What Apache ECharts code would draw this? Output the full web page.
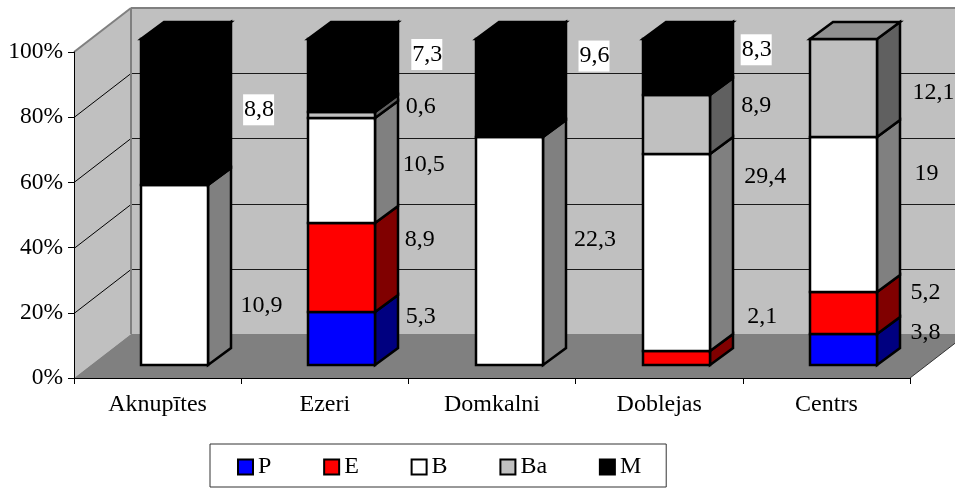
<!DOCTYPE html>
<html>
<head>
<meta charset="utf-8">
<style>
    html, body { margin: 0; padding: 0; background: #fff; }
    #chart { width: 955px; height: 488px; }
</style>
<script src="https://cdn.jsdelivr.net/npm/echarts@6/dist/echarts.min.js"></script>
</head>
<body>
<div id="chart"></div>
<script>
var categories = ['Aknupītes', 'Ezeri', 'Domkalni', 'Doblejas', 'Centrs'];
var yTicks = [0, 20, 40, 60, 80, 100];

// raw values per group, the chart stacks them to 100%
var P  = [0, 5.3, 0, 0, 3.8];
var E  = [0, 8.9, 0, 2.1, 5.2];
var B  = [10.9, 10.5, 22.3, 29.4, 19];
var Ba = [0, 0.6, 0, 8.9, 12.1];
var M  = [8.8, 7.3, 9.6, 8.3, 0];

// the labels were moved by hand in the original: shift from bar centre / segment middle
var shiftX_P  = [0, 79, 0, 0, 82];
var shiftY_P  = [0, -22, 0, 0, -17];
var shiftX_E  = [0, 78, 0, 86, 82];
var shiftY_E  = [0, -28, 0, -41, -20];
var shiftX_B  = [87, 82, 86, 89, 83];
var shiftY_B  = [31, -6, -11, -76, -41];
var shiftX_Ba = [0, 79, 0, 80, 90];
var shiftY_Ba = [0, -8, 0, -19, 5];
var shiftX_M  = [84, 85, 85, 80, 0];
var shiftY_M  = [-2, -21, -32, -17, 0];

var FONT = '"Liberation Serif", "Times New Roman", serif';
var WALL = '#c0c0c0', EDGE = '#808080', FLOOR = '#808080';
var DEPTH_X = 57, DEPTH_Y = 44;     // whole floor
var BAR_X = 17, BAR_Y = 13;         // bar front stands this far from the front edge
var SIDE_X = 23, SIDE_Y = 17;       // bar depth
var BAR_LINE = 2.5;

var names = ['P', 'E', 'B', 'Ba', 'M'];
var rows = [P, E, B, Ba, M];
var colors = ['#0000ff', '#ff0000', '#ffffff', '#c0c0c0', '#000000'];
var sideColors = ['#000080', '#800000', '#808080', '#606060', '#000000'];
var topColors = ['#0000b0', '#b00000', '#b0b0b0', '#909090', '#000000'];
var shiftsX = [shiftX_P, shiftX_E, shiftX_B, shiftX_Ba, shiftX_M];
var shiftsY = [shiftY_P, shiftY_E, shiftY_B, shiftY_Ba, shiftY_M];

function totalOf(i) {
    var t = 0;
    for (var r = 0; r < rows.length; r++) t += rows[r][i];
    return t;
}

function segments(r) {
    var out = [];
    for (var i = 0; i < categories.length; i++) {
        if (!rows[r][i]) continue;
        var below = 0, above = 0;
        for (var k = 0; k < r; k++) below += rows[k][i];
        for (var k2 = r + 1; k2 < rows.length; k2++) above += rows[k2][i];
        var t = totalOf(i);
        out.push([i, below / t * 100, (below + rows[r][i]) / t * 100, above > 0 ? 0 : 1]);
    }
    return out;
}

function poly(points, fill, stroke, width) {
    return {
        type: 'polygon',
        shape: { points: points },
        style: { fill: fill, stroke: stroke || null, lineWidth: width || 0, lineJoin: 'miter' }
    };
}

function line(x1, y1, x2, y2, color, width) {
    return {
        type: 'line',
        shape: { x1: x1, y1: y1, x2: x2, y2: y2 },
        style: { stroke: color, lineWidth: width || 1 }
    };
}

function renderWalls(params, api) {
    var c = params.coordSys;
    var l = c.x, r = c.x + c.width, t = c.y, b = c.y + c.height;
    var kids = [
        poly([[l + DEPTH_X, t - DEPTH_Y], [r + DEPTH_X, t - DEPTH_Y], [r + DEPTH_X, b - DEPTH_Y], [l + DEPTH_X, b - DEPTH_Y]], WALL),
        poly([[l, t], [l + DEPTH_X, t - DEPTH_Y], [l + DEPTH_X, b - DEPTH_Y], [l, b]], WALL),
        poly([[l, b], [l + DEPTH_X, b - DEPTH_Y], [r + DEPTH_X, b - DEPTH_Y], [r, b]], FLOOR)
    ];
    for (var i = 1; i < yTicks.length - 1; i++) {
        var y = Math.round(api.coord([0, yTicks[i]])[1]) + 0.5;
        kids.push(line(l, y, l + DEPTH_X, y - DEPTH_Y, '#000'));
        kids.push(line(l + DEPTH_X, y - DEPTH_Y, r + DEPTH_X, y - DEPTH_Y, '#1a1a1a'));
    }
    kids.push(line(l + DEPTH_X, t - DEPTH_Y, r + DEPTH_X, t - DEPTH_Y, EDGE, 2));
    kids.push(line(l + DEPTH_X, t - DEPTH_Y, l + DEPTH_X, b - DEPTH_Y, EDGE, 2));
    kids.push(line(l, t, l + DEPTH_X, t - DEPTH_Y, EDGE, 2));
    kids.push(line(r, b, r + DEPTH_X, b - DEPTH_Y, '#333'));
    return { type: 'group', children: kids };
}

function renderSegment(r) {
    return function (params, api) {
        var i = api.value(0);
        var low = api.coord([i, api.value(1)]);
        var high = api.coord([i, api.value(2)]);
        var w = Math.round(api.size([1, 0])[0] * 0.4);
        var x0 = Math.round(low[0] + BAR_X - w / 2), x1 = x0 + w;
        var y0 = Math.round(low[1] - BAR_Y), y1 = Math.round(high[1] - BAR_Y);
        var kids = [
            poly([[x1, y0], [x1 + SIDE_X, y0 - SIDE_Y], [x1 + SIDE_X, y1 - SIDE_Y], [x1, y1]], sideColors[r], '#000', BAR_LINE),
            poly([[x0, y0], [x1, y0], [x1, y1], [x0, y1]], colors[r], '#000', BAR_LINE)
        ];
        if (api.value(3)) {
            kids.push(poly([[x0, y1], [x0 + SIDE_X, y1 - SIDE_Y], [x1 + SIDE_X, y1 - SIDE_Y], [x1, y1]], topColors[r], '#000', BAR_LINE));
        }
        return { type: 'group', children: kids };
    };
}

function renderLabel(r) {
    return function (params, api) {
        var i = api.value(0);
        var mid = api.coord([i, (api.value(1) + api.value(2)) / 2]);
        var x = mid[0] + BAR_X + shiftsX[r][i];
        var y = mid[1] - BAR_Y + shiftsY[r][i];
        var back = names[r] === 'M';
        return {
            type: 'text',
            x: x,
            y: y,
            z2: 20,
            style: {
                text: String(rows[r][i]).replace('.', ','),
                font: '24px ' + FONT,
                fill: '#000',
                align: 'center',
                verticalAlign: 'middle',
                backgroundColor: back ? '#fff' : null,
                padding: back ? [4, 0, 3, 1] : 0
            }
        };
    };
}

var series = [{
    type: 'custom',
    silent: true,
    z: 1,
    renderItem: renderWalls,
    data: [[0, 0]],
    encode: { x: 0, y: 1 }
}];

names.forEach(function (name, r) {
    series.push({
        name: name,
        type: 'custom',
        z: 2 + r,
        renderItem: renderSegment(r),
        itemStyle: { color: colors[r] },
        data: segments(r),
        encode: { x: 0, y: [1, 2] }
    });
});
names.forEach(function (name, r) {
    series.push({
        type: 'custom',
        silent: true,
        z: 9,
        renderItem: renderLabel(r),
        data: segments(r),
        encode: { x: 0, y: [1, 2] }
    });
});

var chart = echarts.init(document.getElementById('chart'), null, { renderer: 'canvas' });
chart.setOption({
    animation: false,
    backgroundColor: '#fff',
    grid: { left: 74, right: 45, top: 52, bottom: 110 },
    xAxis: {
        type: 'category',
        data: categories,
        z: 10,
        axisLine: { lineStyle: { color: '#000', width: 1 } },
        axisTick: { show: true, alignWithLabel: false, length: 6, lineStyle: { color: '#000' } },
        axisLabel: { fontFamily: FONT, fontSize: 24, color: '#000', margin: 15, interval: 0 },
        splitLine: { show: false }
    },
    yAxis: {
        type: 'value',
        min: 0,
        max: 100,
        interval: 20,
        z: 10,
        axisLine: { show: true, lineStyle: { color: '#000', width: 1 } },
        axisTick: { show: true, length: 6, lineStyle: { color: '#000' } },
        axisLabel: { fontFamily: FONT, fontSize: 23.5, color: '#000', margin: 11, formatter: '{value}%' },
        splitLine: { show: false }
    },
    legend: {
        left: 210,
        top: 444,
        padding: [11, 25, 8, 27],
        itemGap: 51.8,
        itemWidth: 15,
        itemHeight: 15,
        borderColor: '#333',
        borderWidth: 1,
        selectedMode: false,
        textStyle: { fontFamily: FONT, fontSize: 24, color: '#000' },
        data: names.map(function (name, r) {
            return {
                name: name,
                icon: 'rect',
                itemStyle: { color: colors[r], borderColor: '#000', borderWidth: 2 }
            };
        })
    },
    series: series
});
</script>
</body>
</html>
